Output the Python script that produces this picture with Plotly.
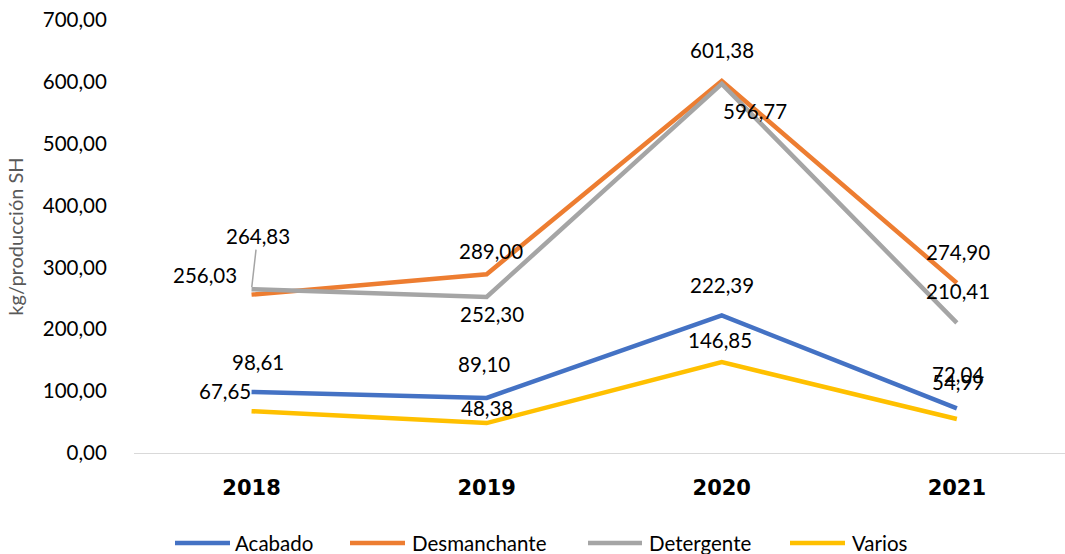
import plotly.graph_objects as go

years = ["2018", "2019", "2020", "2021"]
acabado = [98.61, 89.10, 222.39, 72.04]
desmanchante = [256.03, 289.00, 601.38, 274.90]
detergente = [264.83, 252.30, 596.77, 210.41]
varios = [67.65, 48.38, 146.85, 54.99]
y_ticks = [0, 100, 200, 300, 400, 500, 600, 700]

series = [
    ("Acabado", acabado, "#4472C4"),
    ("Desmanchante", desmanchante, "#ED7D31"),
    ("Detergente", detergente, "#A5A5A5"),
    ("Varios", varios, "#FFC000"),
]

# label pixel offsets (dx, dy) per series per point
offsets = {
    "Acabado": [(6, -30), (-3, -34), (0, -30), (1, -34)],
    "Desmanchante": [(-47, -20), (4, -23), (0, -31), (1, -31)],
    "Detergente": [None, (5, 17), (33, 27), (1, -32)],
    "Varios": [(-27, -20), (0, -15), (-2, -22), (1, -37)],
}

FONT = "Lato, Open Sans, sans-serif"
fig = go.Figure()
for name, vals, col in series:
    fig.add_trace(go.Scatter(
        x=list(range(len(years))), y=vals, name=name, mode="lines",
        line=dict(color=col, width=4.5), hoverinfo="skip", showlegend=False))

lab_font = dict(family=FONT, size=20.5, color="#000000")
for name, vals, col in series:
    for i, v in enumerate(vals):
        txt = f"{v:.2f}".replace(".", ",")
        off = offsets[name][i]
        if off is None:
            fig.add_annotation(x=i, y=v, xref="x", yref="y", text=txt, showarrow=True,
                               arrowhead=0, arrowwidth=1.5, arrowcolor="#A5A5A5",
                               ax=6, ay=-53, standoff=2, font=lab_font)
        else:
            fig.add_annotation(x=i, y=v, xref="x", yref="y", text=txt, showarrow=False,
                               xshift=off[0], yshift=-off[1], font=lab_font)

# custom legend (paper coords; plot area spans page x 134..1065, y 20..453)
def px(xp):
    return (xp - 134) / 931.0

def py(yp):
    return (453 - yp) / 433.0

leg_items = [(175, 230, 233), (350, 405, 410), (588, 642, 647), (790, 845, 850)]
for (name, vals, col), (x0, x1, xt) in zip(series, leg_items):
    fig.add_shape(type="line", xref="paper", yref="paper", x0=px(x0), x1=px(x1),
                  y0=py(543), y1=py(543), line=dict(color=col, width=4.5))
    fig.add_annotation(xref="paper", yref="paper", x=px(xt), y=py(543), text=name,
                       showarrow=False, xanchor="left", yanchor="middle",
                       font=dict(family=FONT, size=20.5, color="#000000"))

fig.update_layout(
    width=1065, height=554,
    margin=dict(l=134, r=0, t=20, b=101),
    paper_bgcolor="white", plot_bgcolor="white",
    separators=",.",
    showlegend=False,
    xaxis=dict(
        range=[-0.5, 3.46], tickmode="array", tickvals=list(range(len(years))),
        ticktext=years, showgrid=False, zeroline=False,
        showline=True, linecolor="#D9D9D9", linewidth=1,
        ticks="outside", ticklen=16, tickcolor="rgba(0,0,0,0)",
        tickfont=dict(family="Arial Black, DejaVu Sans, sans-serif", size=21, color="#000000", weight=900),
    ),
    yaxis=dict(
        range=[0, 700], tickmode="array", tickvals=y_ticks,
        ticktext=[f"{t:.2f}".replace(".", ",") for t in y_ticks],
        showgrid=False, zeroline=False, showline=False,
        ticks="outside", ticklen=22, tickcolor="rgba(0,0,0,0)",
        tickfont=dict(family=FONT, size=20.5, color="#000000"),
        title=dict(text="kg/producción SH", standoff=13,
                   font=dict(family=FONT, size=20, color="#595959")),
    ),
)

fig.write_html("out.html", config={"displayModeBar": False},
               post_script="document.body.style.margin='0';")
